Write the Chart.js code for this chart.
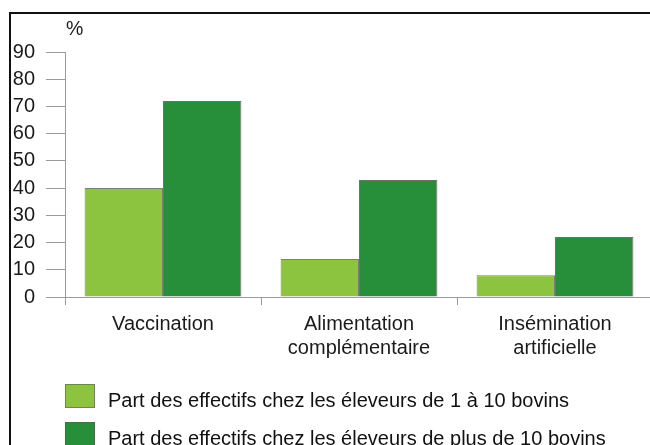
<!DOCTYPE html>
<html>
<head>
<meta charset="utf-8">
<script src="https://cdn.jsdelivr.net/npm/chart.js@4"></script>
<style>
html, body { margin: 0; padding: 0; overflow: hidden; background: #fff; }
#wrap { position: absolute; left: 0; top: 0; width: 662px; height: 445px; }
</style>
</head>
<body>
<div id="wrap"><canvas id="chart" width="662" height="445"></canvas></div>
<script>
const categories = [['Vaccination'], ['Alimentation', 'complémentaire'], ['Insémination', 'artificielle']];
const smallFarms = [40, 14, 8];
const largeFarms = [72, 43, 22];
const seriesLabels = [
    'Part des effectifs chez les éleveurs de 1 à 10 bovins',
    'Part des effectifs chez les éleveurs de plus de 10 bovins'
];
const yTicks = [0, 10, 20, 30, 40, 50, 60, 70, 80, 90];
const unitLabel = '%';

const FONT = 'Liberation Sans, Arial, sans-serif';

// frame, unit label and legend drawn by hand
const decor = {
    id: 'decor',
    beforeDraw(chart) {
        const ctx = chart.ctx;
        ctx.save();
        ctx.strokeStyle = '#111';
        ctx.lineWidth = 2;
        ctx.beginPath();
        ctx.moveTo(10, 445);
        ctx.lineTo(10, 13);
        ctx.lineTo(chart.width, 13);
        ctx.stroke();
        ctx.restore();
    },
    afterDraw(chart) {
        const ctx = chart.ctx;
        ctx.save();
        ctx.fillStyle = '#1a1a1a';
        ctx.font = '19.5px ' + FONT;
        ctx.textBaseline = 'middle';
        ctx.fillText(unitLabel, 66, 30);

        chart.data.datasets.forEach((ds, i) => {
            const y = 384 + i * 38;
            ctx.fillStyle = ds.backgroundColor;
            ctx.fillRect(65, y, 30, 24);
            ctx.strokeStyle = 'rgba(90,90,90,0.6)';
            ctx.lineWidth = 1;
            ctx.strokeRect(65.5, y + 0.5, 29, 23);
            ctx.fillStyle = '#111';
            ctx.font = '20px ' + FONT;
            ctx.fillText(ds.label, 108, y + 17);
        });
        ctx.restore();
    }
};

new Chart(document.getElementById('chart'), {
    type: 'bar',
    data: {
        labels: categories,
        datasets: [{
            label: seriesLabels[0],
            data: smallFarms,
            backgroundColor: '#8cc43f',
            borderColor: 'rgba(70,70,70,0.7)',
            borderWidth: 1
        }, {
            label: seriesLabels[1],
            data: largeFarms,
            backgroundColor: '#278f3a',
            borderColor: 'rgba(50,50,50,0.7)',
            borderWidth: 1
        }]
    },
    options: {
        responsive: false,
        animation: false,
        categoryPercentage: 0.8,
        barPercentage: 1.0,
        layout: { padding: { left: 0, top: 52, right: 9, bottom: 0 } },
        plugins: {
            legend: { display: false },
            tooltip: { enabled: false }
        },
        scales: {
            x: {
                grid: { drawOnChartArea: false, tickLength: 8, color: '#9a9a9a', offset: true },
                border: { color: '#9a9a9a' },
                ticks: {
                    font: { family: FONT, size: 20, lineHeight: 1.2 },
                    color: '#1a1a1a',
                    padding: 7,
                    maxRotation: 0,
                    autoSkip: false
                },
                afterFit(scale) { scale.height = 148; }
            },
            y: {
                min: 0,
                max: 90,
                afterBuildTicks(scale) { scale.ticks = yTicks.map(v => ({ value: v })); },
                grid: { drawOnChartArea: false, tickLength: 19, color: '#9a9a9a' },
                border: { color: '#9a9a9a' },
                ticks: {
                    font: { family: FONT, size: 20 },
                    color: '#1a1a1a',
                    padding: 11
                },
                afterFit(scale) { scale.width = 65; }
            }
        }
    },
    plugins: [decor]
});
</script>
</body>
</html>
